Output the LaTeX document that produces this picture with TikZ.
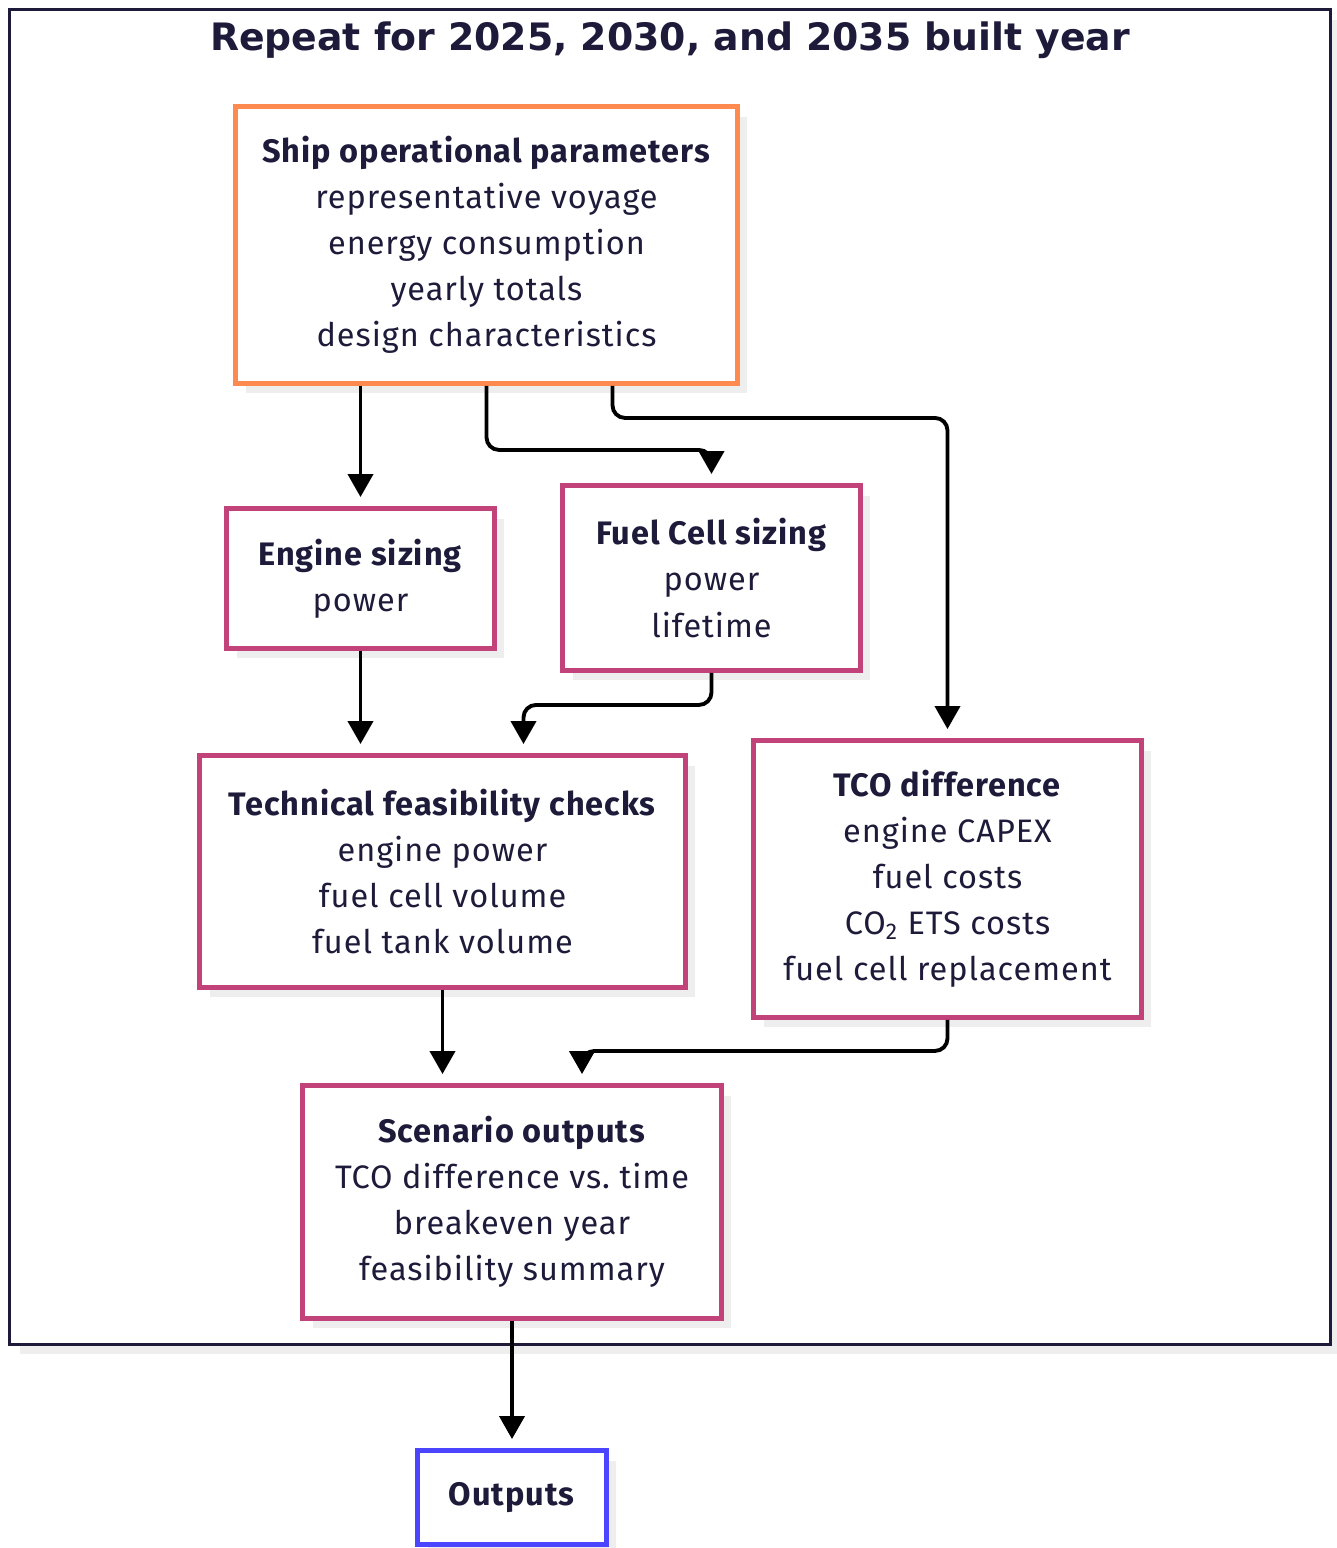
\documentclass[tikz,border=0pt]{standalone}
\usepackage{fontspec}
\setmainfont{Fira Sans}[LetterSpace=3]
\newfontfamily\titlefont{DejaVu Sans}
\usetikzlibrary{arrows.meta, calc, shadows}
\definecolor{ink}{HTML}{1E1B3A}
\definecolor{shiporange}{HTML}{FF8A50}
\definecolor{stagepink}{HTML}{C2437A}
\definecolor{outblue}{HTML}{4B45FF}
\definecolor{shade}{HTML}{EEEEEE}
\newcommand{\Head}[1]{\textbf{#1}}
\tikzset{
    box/.style={draw, line width=2.8pt, fill=white, align=center, text=ink,
      font=\fontsize{18.5}{26.2}\selectfont, inner sep=0pt,
      drop shadow={shadow xshift=0.2cm, shadow yshift=-0.2cm, fill=shade, opacity=1}},
    shipbox/.style={box, draw=shiporange},
    stagebox/.style={box, draw=stagepink},
    outbox/.style={box, draw=outblue},
    frame/.style={box, draw=ink, line width=1.7pt, minimum width=26.42cm, minimum height=26.7cm},
    flow/.style={line width=2.2pt, -{Triangle[width=0.5cm,length=0.46cm]},
      rounded corners=0.25cm, shorten >=0.18cm},
}

\begin{document}
\begin{tikzpicture}[x=0.02cm, y=-0.02cm]
    \useasboundingbox (0,0) rectangle (1337,1548);

    \node[frame] (repeat) at (670,677) {};
    \node[text=ink, font=\titlefont\bfseries\fontsize{21.5}{26}\selectfont] (title) at (670,40)
      {Repeat for 2025, 2030, and 2035 built year};

    \node[shipbox, minimum width=10.04cm, minimum height=5.54cm] (ship) at (486.5,245)
      {\Head{Ship operational parameters}\\representative voyage\\energy consumption\\yearly totals\\design characteristics};
    \node[stagebox, minimum width=5.36cm, minimum height=2.8cm] (engine) at (360.5,578.5)
      {\Head{Engine sizing}\\power};
    \node[stagebox, minimum width=5.96cm, minimum height=3.7cm] (fuel) at (711.5,578)
      {\Head{Fuel Cell sizing}\\power\\lifetime};
    \node[stagebox, minimum width=9.72cm, minimum height=4.64cm] (tech) at (442.5,871.5)
      {\Head{Technical feasibility checks}\\engine power\\fuel cell volume\\fuel tank volume};
    \node[stagebox, minimum width=7.76cm, minimum height=5.54cm] (tco) at (947.5,879)
      {\Head{TCO difference}\\engine CAPEX\\fuel costs\\CO\textsubscript{2} ETS costs\\fuel cell replacement};
    \node[stagebox, minimum width=8.38cm, minimum height=4.66cm] (scen) at (512,1202)
      {\Head{Scenario outputs}\\TCO difference vs.\ time\\breakeven year\\feasibility summary};
    \node[outbox, minimum width=3.78cm, minimum height=1.88cm] (out) at (512,1497.5)
      {\Head{Outputs}};

    \draw[flow] (ship.south -| engine.north) -- (engine.north);
    \draw[flow] (ship.south) -- ++(0,64) -| (fuel.north);
    \draw[flow] ($(ship.south)+(126,0)$) -- ++(0,32) -| (tco.north);
    \draw[flow] (engine.south) -- (engine.south |- tech.north);
    \draw[flow] (fuel.south) -- ++(0,32) -| ($(tech.north)+(81,0)$);
    \draw[flow] (tech.south) -- (tech.south |- scen.north);
    \draw[flow] (tco.south) -- ++(0,31) -| ($(scen.north)+(70,0)$);
    \draw[flow] (scen.south) -- (out.north);
\end{tikzpicture}
\end{document}
